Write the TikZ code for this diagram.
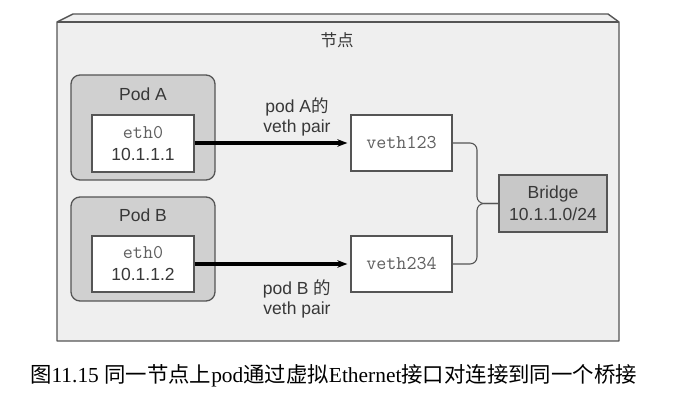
\documentclass[tikz,border=0pt]{standalone}
\usepackage{fontspec}
\setmainfont{Liberation Serif}
\setsansfont{Liberation Sans}
\newfontfamily\cjk{Noto Sans CJK SC}
\usetikzlibrary{arrows.meta,positioning}
\definecolor{outerfill}{HTML}{EFEFEF}
\definecolor{podfill}{HTML}{D0D0D0}
\definecolor{bridgefill}{HTML}{C8C8C8}
\definecolor{edge}{HTML}{555555}
\definecolor{txt}{HTML}{383838}
\definecolor{monotxt}{HTML}{606060}
\tikzset{
  podbox/.style={draw=edge, line width=1.3pt, fill=podfill, rounded corners=9pt},
  whitebox/.style={draw=edge, line width=1.3pt, fill=white, inner sep=0pt, align=center,
     font=\sffamily\fontsize{17.5}{22}\selectfont, text=txt},
  lbl/.style={font=\sffamily\fontsize{17.5}{20}\selectfont, text=txt, align=center, inner sep=0pt},
  pairarrow/.style={line width=3.5pt, shorten >=3pt, -{Stealth[length=10pt,width=7.5pt]}},
  link/.style={draw=edge, line width=1.1pt, rounded corners=7pt},
}
\newcommand{\mono}[1]{{\ttfamily\fontsize{19.5}{22}\selectfont\color{monotxt}#1}}
\begin{document}
\begin{tikzpicture}[x=1pt,y=-1pt]
\useasboundingbox (0,0) rectangle (685,411);
% outer node box
\fill[outerfill] (57,22) -- (73,14) -- (608,14) -- (619,22) -- (619,341) -- (57,341) -- cycle;
\draw[edge, line width=1.4pt, line join=round] (57,22) -- (73,14) -- (608,14) -- (619,22) -- (619,341) -- (57,341) -- cycle;
\draw[edge, line width=1.4pt] (57,22) -- (619,22);
\node[font=\cjk\fontsize{16.5}{18}\selectfont, text=txt] (title) at (337,40) {节点};
% pods
\node[podbox, minimum width=144pt, minimum height=105pt] (podA) at (143,127.5) {};
\node[lbl] (podAlbl) at (143,94) {Pod A};
\node[whitebox, minimum width=102pt, minimum height=57pt] (ethA) at (143,143.5) {\mono{eth0}\\10.1.1.1};
\node[podbox, minimum width=144pt, minimum height=104pt] (podB) at (143,249) {};
\node[lbl] (podBlbl) at (143,215) {Pod B};
\node[whitebox, minimum width=102pt, minimum height=56pt] (ethB) at (143,264) {\mono{eth0}\\10.1.1.2};
% veths
\node[whitebox, minimum width=101pt, minimum height=56pt] (v1) at (401.5,143) {\mono{veth123}};
\node[whitebox, minimum width=101pt, minimum height=56pt] (v2) at (401.5,264) {\mono{veth234}};
% bridge
\node[whitebox, fill=bridgefill, minimum width=108pt, minimum height=57pt] (br) at (553,203.5) {Bridge\\10.1.1.0/24};
% arrows
\draw[pairarrow] (ethA.east |- v1.west) -- (v1.west);
\draw[pairarrow] (ethB.east |- v2.west) -- (v2.west);
\node[lbl] (lblA) at (297,117) {pod A{\cjk 的}\\veth pair};
\node[lbl] (lblB) at (297,299) {pod B {\cjk 的}\\veth pair};
% links to bridge
\coordinate (j) at (477,203.5);
\draw[link] (v1.east) -| (j) -- (br.west);
\draw[link] (v2.east) -| (j) -- (br.west);
% caption
\node[font=\fontsize{21.4}{24}\selectfont, text=black, inner sep=0pt] (cap) at (333.5,376)
  {{\cjk 图}11.15 {\cjk 同一节点上}pod{\cjk 通过虚拟}Ethernet{\cjk 接口对连接到同一个桥接}};
\end{tikzpicture}
\end{document}
